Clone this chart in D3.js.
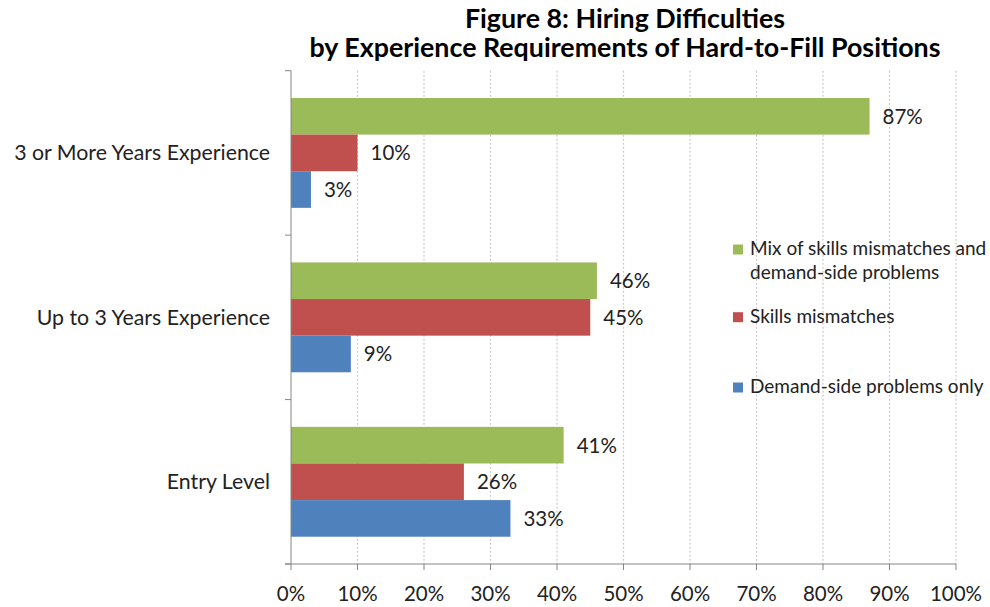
<!DOCTYPE html>
<html>
<head>
<meta charset="utf-8">
<script src="https://cdn.jsdelivr.net/npm/d3@7"></script>
<style>
  html, body { margin: 0; padding: 0; background: #fff; }
  text { font-family: Lato, "Open Sans", sans-serif; fill: #222; }
</style>
</head>
<body>
<svg id="chart" width="990" height="607"></svg>
<script>
const categories = ["3 or More Years Experience", "Up to 3 Years Experience", "Entry Level"];
const seriesNames = ["Mix of skills mismatches and demand-side problems", "Skills mismatches", "Demand-side problems only"];
const mixValues = [87, 46, 41];
const skillsValues = [10, 45, 26];
const demandValues = [3, 9, 33];
const xTicks = [0, 10, 20, 30, 40, 50, 60, 70, 80, 90, 100];
const titleLines = ["Figure 8: Hiring Difficulties", "by Experience Requirements of Hard-to-Fill Positions"];
const legendLines = [["Mix of skills mismatches and", "demand-side problems"], ["Skills mismatches"], ["Demand-side problems only"]];
const colors = ["#9BBB59", "#C0504D", "#4F81BD"];

const seriesValues = [mixValues, skillsValues, demandValues];

const svg = d3.select("#chart");
const pLeft = 291, pRight = 956, pTop = 70.7, pBottom = 564;

const x = d3.scaleLinear().domain([0, 100]).range([pLeft, pRight]);
const y0 = d3.scaleBand().domain(categories).range([pTop, pBottom]);
const y1 = d3.scaleBand().domain(d3.range(3)).range([0, y0.bandwidth()]).paddingInner(0).paddingOuter(0.745);

// title
svg.append("g").selectAll("text").data(titleLines).join("text")
  .attr("x", 625).attr("y", (d, i) => 28 + i * 29)
  .attr("text-anchor", "middle")
  .style("font-weight", "bold").style("font-size", "26.8px").style("fill", "#000")
  .text(d => d);

// gridlines
svg.append("g").selectAll("line").data(xTicks.filter(t => t > 0)).join("line")
  .attr("x1", d => x(d)).attr("x2", d => x(d))
  .attr("y1", pTop).attr("y2", pBottom)
  .attr("stroke", "#c9c9c9").attr("stroke-width", 1.2).attr("stroke-dasharray", "2,2");

// bars
const groups = svg.append("g").selectAll("g").data(categories).join("g")
  .attr("transform", d => `translate(0,${y0(d)})`);

groups.selectAll("rect").data((c, ci) => seriesValues.map((vals, si) => ({ si, v: vals[ci] }))).join("rect")
  .attr("x", x(0))
  .attr("y", d => y1(d.si))
  .attr("width", d => x(d.v) - x(0))
  .attr("height", y1.bandwidth())
  .attr("fill", d => colors[d.si]);

groups.selectAll("text.val").data((c, ci) => seriesValues.map((vals, si) => ({ si, v: vals[ci] }))).join("text")
  .attr("class", "val")
  .attr("x", d => x(d.v) + 13)
  .attr("y", d => y1(d.si) + y1.bandwidth() / 2 + 7.5)
  .style("font-size", "20.5px")
  .text(d => d.v + "%");

// y axis
const yAxis = svg.append("g");
yAxis.append("line").attr("x1", pLeft).attr("x2", pLeft).attr("y1", pTop).attr("y2", pBottom)
  .attr("stroke", "#868686").attr("stroke-width", 1);
const boundaries = categories.map(c => y0(c)).concat([pBottom]);
yAxis.selectAll("line.tk").data(boundaries).join("line").attr("class", "tk")
  .attr("x1", pLeft - 6).attr("x2", pLeft).attr("y1", d => d).attr("y2", d => d)
  .attr("stroke", "#868686");
yAxis.selectAll("text").data(categories).join("text")
  .attr("x", 270).attr("y", d => y0(d) + y0.bandwidth() / 2 + 7.5)
  .attr("text-anchor", "end").style("font-size", "21.3px")
  .text(d => d);

// x axis
const xAxis = svg.append("g");
xAxis.append("line").attr("x1", pLeft - 6).attr("x2", pRight).attr("y1", pBottom).attr("y2", pBottom)
  .attr("stroke", "#868686");
xAxis.selectAll("line.tk").data(xTicks).join("line").attr("class", "tk")
  .attr("x1", d => x(d)).attr("x2", d => x(d)).attr("y1", pBottom).attr("y2", pBottom + 6)
  .attr("stroke", "#868686");
xAxis.selectAll("text").data(xTicks).join("text")
  .attr("x", d => x(d)).attr("y", 600.5)
  .attr("text-anchor", "middle").style("font-size", "20.5px")
  .text(d => d + "%");

// legend
const legendY = [255, 322.7, 393];
const lg = svg.append("g").selectAll("g").data(seriesNames).join("g");
lg.append("rect")
  .attr("x", 733).attr("y", (d, i) => legendY[i] - 10.5)
  .attr("width", 10).attr("height", 10)
  .attr("fill", (d, i) => colors[i]);
lg.each(function(d, i) {
  d3.select(this).selectAll("text").data(legendLines[i]).join("text")
    .attr("x", 750).attr("y", (t, j) => legendY[i] + j * 24)
    .style("font-size", "19px")
    .text(t => t);
});
</script>
</body>
</html>
